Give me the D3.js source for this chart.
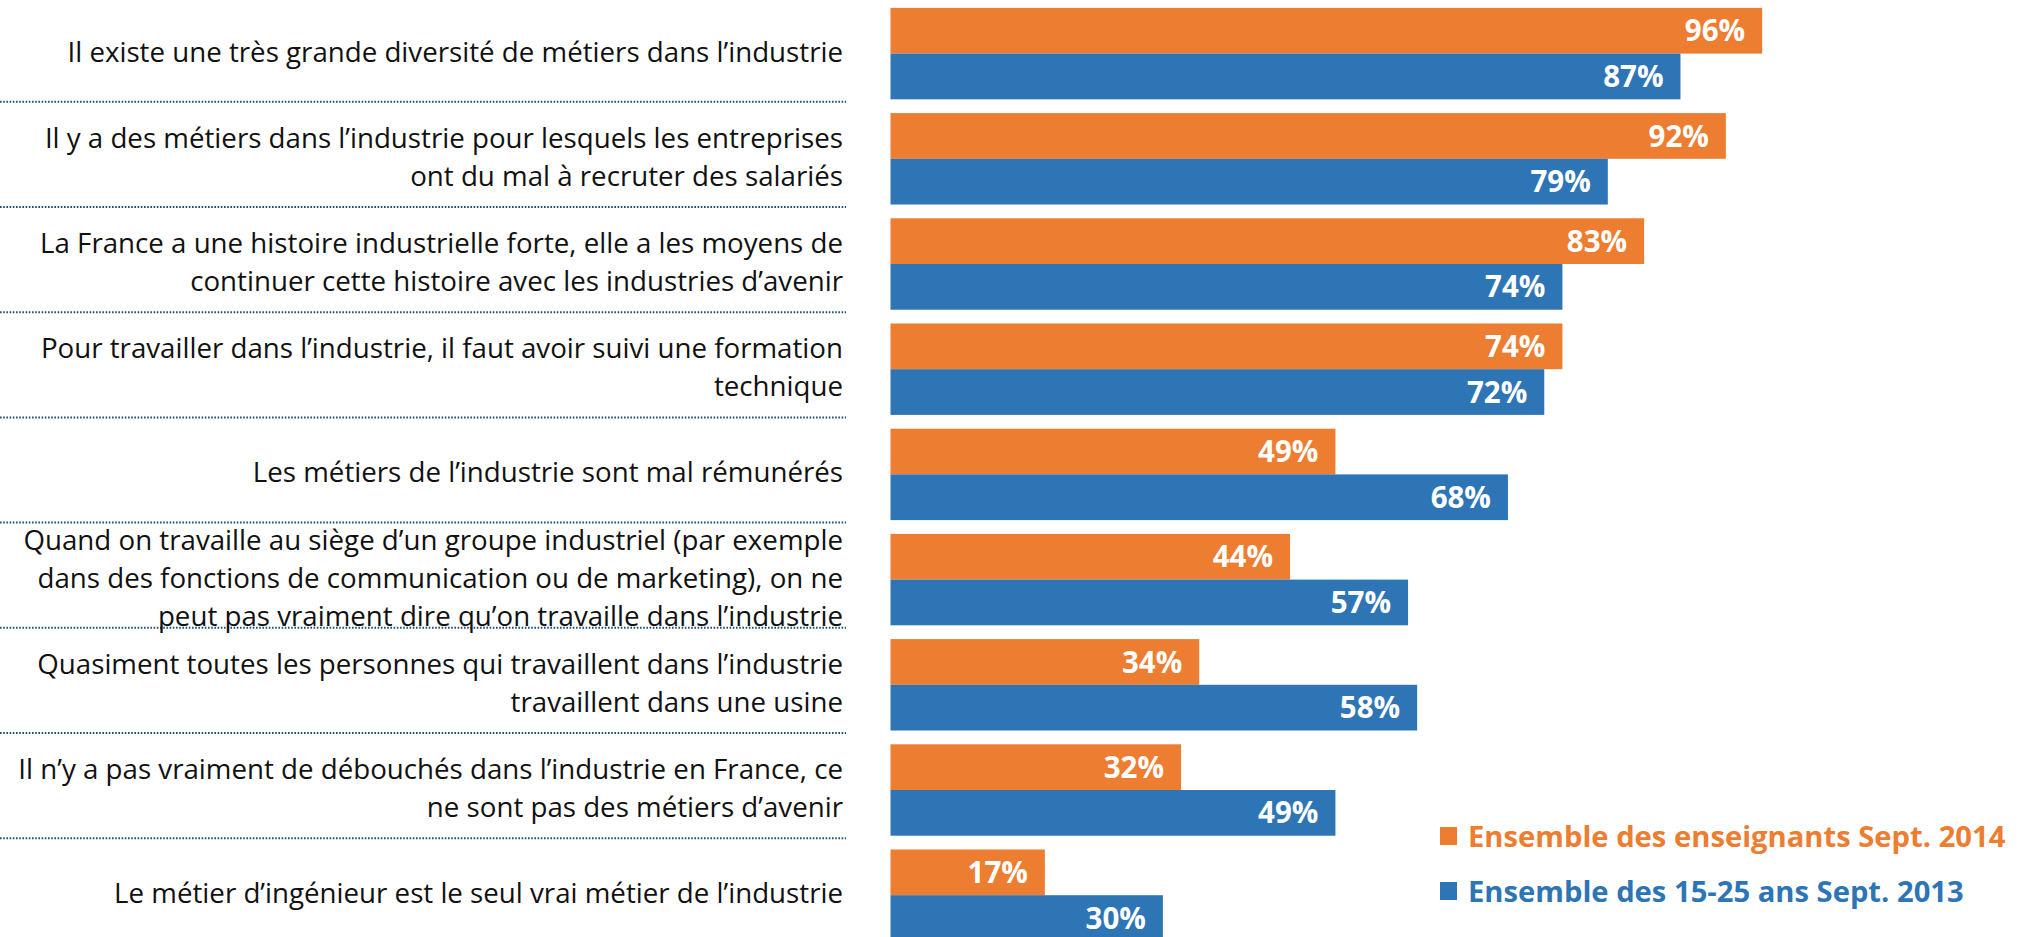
<!DOCTYPE html>
<html>
<head>
<meta charset="utf-8">
<script src="https://cdn.jsdelivr.net/npm/d3@7"></script>
<style>
    body { margin: 0; background: #fff; }
    svg { display: block; }
</style>
</head>
<body id="body">
<script>

// statements, one entry per line of text
var statements = [
    ['Il existe une très grande diversité de métiers dans l’industrie'],
    ['Il y a des métiers dans l’industrie pour lesquels les entreprises', 'ont du mal à recruter des salariés'],
    ['La France a une histoire industrielle forte, elle a les moyens de', 'continuer cette histoire avec les industries d’avenir'],
    ['Pour travailler dans l’industrie, il faut avoir suivi une formation', 'technique'],
    ['Les métiers de l’industrie sont mal rémunérés'],
    ['Quand on travaille au siège d’un groupe industriel (par exemple', 'dans des fonctions de communication ou de marketing), on ne', 'peut pas vraiment dire qu’on travaille dans l’industrie'],
    ['Quasiment toutes les personnes qui travaillent dans l’industrie', 'travaillent dans une usine'],
    ['Il n’y a pas vraiment de débouchés dans l’industrie en France, ce', 'ne sont pas des métiers d’avenir'],
    ['Le métier d’ingénieur est le seul vrai métier de l’industrie']
];

var enseignants2014 = [96, 92, 83, 74, 49, 44, 34, 32, 17];
var jeunes2013 = [87, 79, 74, 72, 68, 57, 58, 49, 30];

var seriesNames = ['Ensemble des enseignants Sept. 2014', 'Ensemble des 15-25 ans Sept. 2013'];
var seriesKeys = ['ens', 'jeunes'];
var seriesColors = ['#ED7D31', '#2E75B6'];

function buildChart(d3) {

    var width = 2019,
        height = 937;

    var dataset = statements.map(function(lines, i) {
        return {id: i, lines: lines, ens: enseignants2014[i], jeunes: jeunes2013[i]};
    });

    var svg = d3.select('body').append('svg')
        .attr('width', width)
        .attr('height', height);

    // scales
    var x = d3.scaleLinear()
        .domain([0, 100])
        .range([890.5, 1798.5]);

    var y = d3.scaleBand()
        .domain(dataset.map(function(d) { return d.id; }))
        .range([1, 1 + 9 * 105.2])
        .paddingInner(0.131)
        .paddingOuter(0.0655);

    var ySub = d3.scaleBand()
        .domain(seriesKeys)
        .range([0, y.bandwidth()]);

    var color = d3.scaleOrdinal()
        .domain(seriesKeys)
        .range(seriesColors);

    // dotted separators under each statement
    svg.append('g')
        .selectAll('line')
        .data(dataset.slice(0, -1))
        .enter().append('line')
        .attr('x1', 0)
        .attr('x2', 846)
        .attr('y1', function(d) { return y(d.id) + y.bandwidth() + 2.5; })
        .attr('y2', function(d) { return y(d.id) + y.bandwidth() + 2.5; })
        .attr('stroke', '#1F4E79')
        .attr('stroke-width', 2)
        .attr('stroke-dasharray', '1.6,1.6');

    // statement labels
    var labels = svg.append('g')
        .selectAll('text')
        .data(dataset)
        .enter().append('text')
        .attr('text-anchor', 'end')
        .attr('fill', '#111')
        .style('font', '27.7px "Open Sans", sans-serif');

    labels.selectAll('tspan')
        .data(function(d) {
            var c = y(d.id) + y.bandwidth() / 2;
            return d.lines.map(function(l, j) {
                return {text: l, y: c + 8 + (j - (d.lines.length - 1) / 2) * 38};
            });
        })
        .enter().append('tspan')
        .attr('x', 843)
        .attr('y', function(d) { return d.y; })
        .text(function(d) { return d.text; });

    // bars
    var group = svg.append('g')
        .selectAll('g')
        .data(dataset)
        .enter().append('g')
        .attr('transform', function(d) { return 'translate(0,' + y(d.id) + ')'; });

    var bar = group.selectAll('g')
        .data(function(d) {
            return seriesKeys.map(function(k) { return {key: k, value: d[k]}; });
        })
        .enter().append('g');

    bar.append('rect')
        .attr('x', x(0))
        .attr('y', function(d) { return ySub(d.key); })
        .attr('width', function(d) { return x(d.value) - x(0); })
        .attr('height', ySub.bandwidth())
        .attr('fill', function(d) { return color(d.key); });

    bar.append('text')
        .attr('x', function(d) { return x(d.value) - 17; })
        .attr('y', function(d) { return ySub(d.key) + ySub.bandwidth() / 2; })
        .attr('dy', '.36em')
        .attr('text-anchor', 'end')
        .attr('fill', '#fff')
        .style('font', 'bold 29.5px "Open Sans", sans-serif')
        .text(function(d) { return d.value + '%'; });

    // legend
    var legend = svg.append('g')
        .selectAll('g')
        .data(seriesKeys)
        .enter().append('g')
        .attr('transform', function(d, i) { return 'translate(1440,' + (836 + i * 55) + ')'; });

    legend.append('rect')
        .attr('x', 0)
        .attr('y', -9)
        .attr('width', 17)
        .attr('height', 18)
        .attr('fill', function(d) { return color(d); });

    legend.append('text')
        .attr('x', 28)
        .attr('dy', '.36em')
        .attr('fill', function(d) { return color(d); })
        .style('font', 'bold 29.2px "Open Sans", sans-serif')
        .text(function(d, i) { return seriesNames[i]; });

}

buildChart(window.d3);

</script>
</body>
</html>
